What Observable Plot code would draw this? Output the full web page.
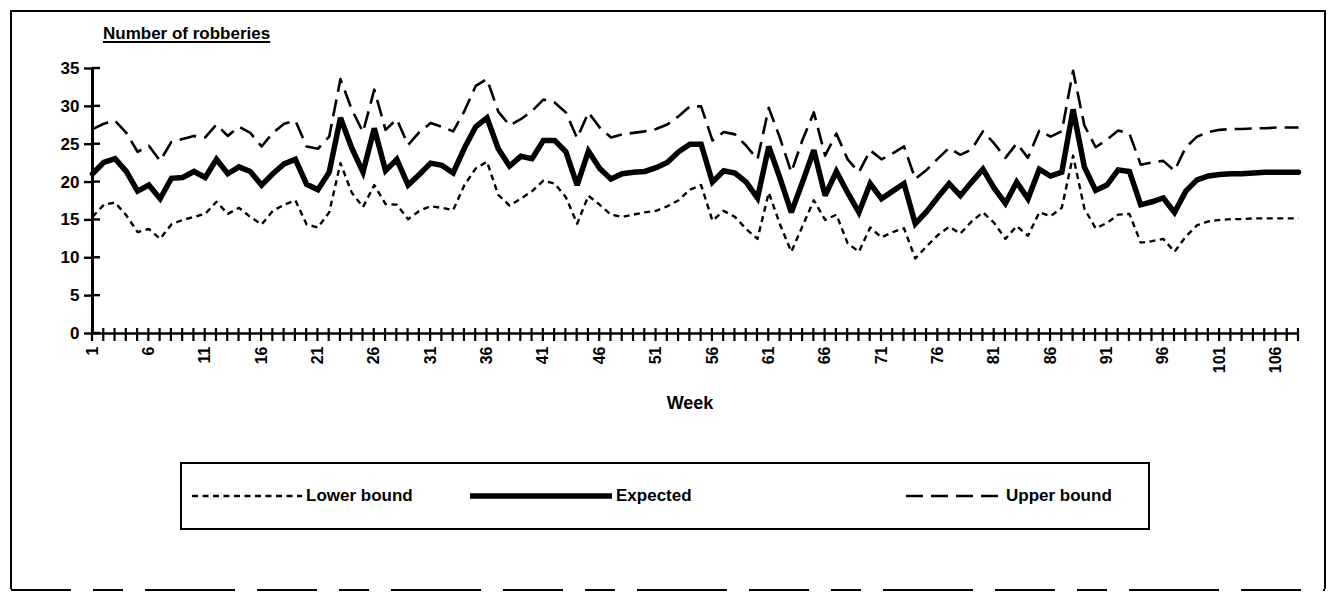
<!DOCTYPE html>
<html>
<head>
<meta charset="utf-8">
<script src="https://cdn.jsdelivr.net/npm/d3@7"></script>
<script src="https://cdn.jsdelivr.net/npm/@observablehq/plot@0.6"></script>
<style>
  body { margin: 0; background: #fff; }
  #wrap { position: relative; width: 1329px; height: 596px; font-family: "Liberation Sans", Arial, sans-serif; font-weight: bold; color: #000; overflow: hidden; }
  #frame { position: absolute; left: 0; top: 0; }
  #title { position: absolute; left: 103px; top: 24px; font-size: 17px; text-decoration: underline; text-decoration-thickness: 2px; text-underline-offset: 2px; }
  #plot { position: absolute; left: 0; top: 0; }
  #week { position: absolute; left: 590px; width: 200px; top: 393px; text-align: center; font-size: 18px; }
  #legend { position: absolute; left: 180px; top: 462px; width: 970px; height: 68px; border: 2px solid #000; box-sizing: border-box; }
  .item { position: absolute; top: 0; height: 64px; display: flex; align-items: center; font-size: 17px; }
  .item svg { margin-right: 4px; }
</style>
</head>
<body>
<div id="wrap">
  <svg id="frame" width="1329" height="596"></svg>
  <div id="title">Number of robberies</div>
  <div id="plot"></div>
  <div id="week">Week</div>
  <div id="legend"></div>
</div>
<script>
// ---- data ----
const weeks = d3.range(1, 109);
const expected = [
  21.1, 22.6, 23.1, 21.4, 18.8, 19.6, 17.8, 20.5, 20.6, 21.4,
  20.6, 23.0, 21.1, 22.0, 21.4, 19.6, 21.1, 22.4, 23.0, 19.7,
  19.0, 21.3, 28.5, 24.5, 21.3, 27.1, 21.5, 23.0, 19.6, 21.0,
  22.5, 22.2, 21.2, 24.5, 27.3, 28.5, 24.4, 22.1, 23.4, 23.1,
  25.5, 25.5, 24.0, 19.6, 24.1, 21.8, 20.4, 21.1, 21.3, 21.4,
  21.9, 22.6, 24.0, 25.0, 25.0, 20.0, 21.5, 21.2, 20.0, 17.9,
  24.7, 20.5, 16.0, 20.0, 24.2, 18.2, 21.4, 18.6, 16.0, 19.8,
  17.8, 18.8, 19.8, 14.5, 16.1, 18.0, 19.8, 18.2, 20.0, 21.7,
  19.2, 17.2, 20.0, 17.8, 21.7, 20.8, 21.3, 29.6, 22.0, 18.9,
  19.6, 21.6, 21.4, 17.0, 17.4, 17.9, 16.0, 18.8, 20.3, 20.8,
  21.0, 21.1, 21.1, 21.2, 21.3, 21.3, 21.3, 21.3
];
const upper = [
  27.0, 27.7, 28.1, 26.5, 24.0, 24.8, 22.8, 25.3, 25.7, 26.1,
  25.9, 27.6, 26.1, 27.3, 26.5, 24.7, 26.5, 27.7, 28.1, 24.7,
  24.4, 26.0, 33.6, 29.6, 26.6, 32.2, 26.9, 28.3, 24.9, 26.6,
  27.8, 27.3, 26.7, 29.4, 32.7, 33.6, 29.3, 27.5, 28.3, 29.4,
  30.9, 30.5, 29.2, 25.8, 29.2, 27.2, 25.9, 26.3, 26.5, 26.7,
  27.0, 27.6, 28.7, 30.0, 30.0, 25.5, 26.6, 26.3, 24.8, 23.0,
  29.8, 25.8, 21.3, 25.6, 29.2, 23.5, 26.4, 23.0, 21.3, 24.2,
  23.0, 23.8, 24.7, 20.4, 21.6, 23.1, 24.5, 23.6, 24.3, 26.7,
  25.1, 23.2, 25.1, 23.2, 26.8, 26.0, 26.7, 34.7, 27.5, 24.6,
  25.6, 26.8, 26.4, 22.3, 22.6, 22.8, 21.5, 24.6, 26.0, 26.6,
  26.9, 27.0, 27.0, 27.1, 27.1, 27.2, 27.2, 27.2
];
const lower = [
  15.4, 17.0, 17.3, 15.6, 13.4, 13.8, 12.5, 14.4, 15.0, 15.4,
  15.8, 17.4, 15.8, 16.6, 15.4, 14.4, 16.2, 17.0, 17.6, 14.4,
  14.0, 16.0, 22.5, 18.6, 16.7, 19.6, 17.1, 17.0, 15.1, 16.2,
  16.8, 16.6, 16.3, 19.6, 21.8, 22.7, 18.3, 16.9, 17.8, 18.8,
  20.2, 19.8, 18.0, 14.5, 18.2, 17.0, 15.7, 15.4, 15.7, 16.0,
  16.2, 16.8, 17.6, 19.0, 19.6, 14.9, 16.2, 15.4, 13.8, 12.5,
  18.6, 14.4, 10.8, 14.2, 17.6, 15.0, 15.7, 11.9, 10.8, 14.0,
  12.7, 13.4, 13.9, 9.9, 11.5, 13.0, 14.1, 13.2, 14.8, 16.0,
  14.6, 12.5, 14.2, 12.9, 16.0, 15.5, 16.6, 23.5, 16.5, 13.9,
  14.6, 15.7, 15.8, 12.0, 12.2, 12.5, 10.8, 12.8, 14.3, 14.8,
  15.0, 15.1, 15.1, 15.2, 15.2, 15.2, 15.2, 15.2
];
const yTicks = [0, 5, 10, 15, 20, 25, 30, 35];
const xTickLabels = [1, 6, 11, 16, 21, 26, 31, 36, 41, 46, 51, 56, 61, 66, 71, 76, 81, 86, 91, 96, 101, 106];
const seriesNames = ["Lower bound", "Expected", "Upper bound"];

// ---- styles ----
const styles = {
  "Lower bound": { dash: "6,4.5", width: 2.4 },
  "Expected": { dash: null, width: 5.5 },
  "Upper bound": { dash: "17,8", width: 2.6 }
};

const rows = weeks.map((w, i) => ({ week: w, lower: lower[i], expected: expected[i], upper: upper[i] }));

const chart = Plot.plot({
  width: 1329,
  height: 420,
  marginLeft: 92,
  marginRight: 31,
  marginTop: 68,
  marginBottom: 87,
  x: { domain: [1, 108] },
  y: { domain: [0, 35] },
  style: { fontFamily: "'Liberation Sans', Arial, sans-serif", fontWeight: "bold", fontSize: "15px", color: "#000", background: "transparent", overflow: "visible" },
  marks: [
    Plot.axisY({ ticks: yTicks, tickSize: 8, tickPadding: 5, fontSize: 17, label: null, strokeWidth: 2.4 }),
    Plot.axisX({ ticks: xTickLabels, tickSize: 0, tickRotate: -90, tickPadding: 13, fontSize: 16, label: null }),
    Plot.ruleX([1], { stroke: "#000", strokeWidth: 3 }),
    Plot.ruleY([0], { stroke: "#000", strokeWidth: 2.6 }),
    Plot.line(rows, { x: "week", y: "lower", stroke: "#000", strokeWidth: styles["Lower bound"].width, strokeDasharray: styles["Lower bound"].dash, strokeLinecap: "butt" }),
    Plot.line(rows, { x: "week", y: "expected", stroke: "#000", strokeWidth: styles["Expected"].width, strokeLinejoin: "miter", strokeMiterlimit: 3 }),
    Plot.line(rows, { x: "week", y: "upper", stroke: "#000", strokeWidth: styles["Upper bound"].width, strokeDasharray: styles["Upper bound"].dash, strokeLinecap: "butt" })
  ]
});
document.getElementById("plot").appendChild(chart);

// extra tick marks (crossing the axes), positioned with Plot's own scales
const sx = chart.scale("x"), sy = chart.scale("y");
const g = d3.select(chart).append("g").attr("stroke", "#000");
const x0 = sx.apply(1), y0 = sy.apply(0);
for (const v of yTicks) {
  g.append("line").attr("x1", x0).attr("x2", x0 + 8).attr("y1", sy.apply(v)).attr("y2", sy.apply(v)).attr("stroke-width", 2.4);
}
for (const w of weeks) {
  g.append("line").attr("x1", sx.apply(w)).attr("x2", sx.apply(w)).attr("y1", y0 - 5).attr("y2", y0 + 8).attr("stroke-width", 2.2);
}

// frame
const fr = d3.select("#frame");
fr.append("path").attr("d", "M11,589 L11,11 L1325,11 L1325,589").attr("fill", "none").attr("stroke", "#000").attr("stroke-width", 2);
fr.append("line").attr("x1", 11).attr("x2", 1325).attr("y1", 590).attr("y2", 590).attr("stroke", "#000").attr("stroke-width", 2).attr("stroke-dasharray", "60,22,30,22,90,22");

// legend
const legendPos = { "Lower bound": [10, 110], "Expected": [288, 142], "Upper bound": [724, 96] };
const leg = d3.select("#legend");
for (const name of seriesNames) {
  const [left, sw] = legendPos[name];
  const it = leg.append("div").attr("class", "item").style("left", left + "px");
  const s = it.append("svg").attr("width", sw).attr("height", 10);
  s.append("line").attr("x1", 0).attr("x2", sw).attr("y1", 5).attr("y2", 5)
    .attr("stroke", "#000").attr("stroke-width", styles[name].width)
    .attr("stroke-dasharray", styles[name].dash);
  it.append("span").text(name);
}
</script>
</body>
</html>
